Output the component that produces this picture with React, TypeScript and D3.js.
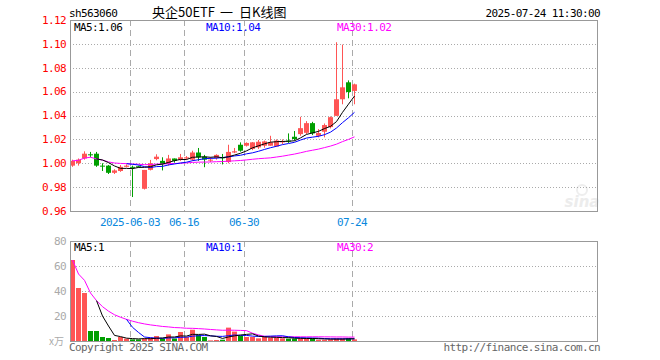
import React from 'react';
import * as d3 from 'd3';

// ---- data ----
const opens = [0.998, 1.0, 1.004, 1.0075, 1.008, 0.998, 0.998, 0.992, 0.9935, 0.997,
  0.997, 0.9975, 0.9786, 0.9945, 1.0035, 1.002, 0.9995, 1.004, 1.003, 1.004,
  1.003, 1.009, 1.0055, 1.0025, 1.0045, 1.005, 1.001, 1.009, 1.0155, 1.0147,
  1.012, 1.0133, 1.0147, 1.0147, 1.014, 1.0175, 1.019, 1.0222, 1.0244, 1.0255,
  1.0336, 1.023, 1.0264, 1.0303, 1.0397, 1.0536, 1.0678, 1.0606];
const closes = [1.002, 1.003, 1.008, 1.0072, 0.998, 0.9975, 0.992, 0.994, 0.997, 0.998,
  0.9965, 0.997, 0.9944, 1.0, 1.0055, 0.9995, 1.004, 1.002, 1.005, 1.005,
  1.009, 1.005, 1.003, 1.003, 1.007, 1.0048, 1.0095, 1.01, 1.0105, 1.017,
  1.0175, 1.018, 1.0183, 1.0175, 1.019, 1.0186, 1.0188, 1.0203, 1.0294, 1.0336,
  1.025, 1.0253, 1.032, 1.0386, 1.0536, 1.0636, 1.0597, 1.0661];
const highs = [1.003, 1.004, 1.01, 1.0095, 1.0095, 1.0, 0.9985, 0.995, 0.9985, 0.999,
  0.998, 0.998, 0.9944, 1.0028, 1.0075, 1.005, 1.007, 1.004, 1.0078, 1.006,
  1.0105, 1.0128, 1.007, 1.005, 1.0075, 1.0078, 1.0155, 1.0128, 1.0175, 1.0175,
  1.0178, 1.0195, 1.019, 1.023, 1.02, 1.02, 1.025, 1.027, 1.0389, 1.0353,
  1.0347, 1.0286, 1.0333, 1.0392, 1.1014, 1.0994, 1.0694, 1.0667];
const lows = [0.997, 0.998, 1.003, 1.005, 0.997, 0.9935, 0.991, 0.991, 0.9928, 0.9965,
  0.9717, 0.9965, 0.978, 0.994, 1.0025, 0.994, 0.998, 1.0005, 1.002, 1.003,
  1.002, 1.002, 0.9967, 1.001, 1.003, 0.999, 1.0, 1.0085, 1.0097, 1.014,
  1.011, 1.012, 1.013, 1.0147, 1.014, 1.016, 1.017, 1.019, 1.023, 1.0245,
  1.0236, 1.0217, 1.0217, 1.0292, 1.0397, 1.0494, 1.0544, 1.0494];
const volumes = [64.8, 42.4, 38.4, 8, 8, 3.2, 2.4, 0.8, 3.2, 1.9,
  1.3, 1.3, 1.9, 2.7, 4, 2, 5.3, 2, 7.2, 3.2,
  9, 4.8, 3.2, 0.5, 0.8, 1, 10.7, 7.5, 4, 3.2,
  3.2, 2.1, 4, 2.7, 2.7, 2.1, 1.9, 1.9, 2.1, 2.1,
  2.1, 1, 1, 1.3, 2.1, 2.1, 2.1, 1.3];

const priceTicks = [1.12, 1.10, 1.08, 1.06, 1.04, 1.02, 1.00, 0.98, 0.96];
const volTicks = [80, 60, 40, 20];
const dateTickIdx = [10, 19, 29, 47];
const dateTickLabels = ['2025-06-03', '06-16', '06-30', '07-24'];

const RED = '#ff5555';
const GREEN = '#009f00';
const MONO = '"DejaVu Sans Mono", "Liberation Mono", monospace';
const CJK = '"Noto Sans CJK SC", sans-serif';

function movingAvg(arr: number[], n: number, partial: boolean): (number | null)[] {
  return arr.map((_, i) => {
    if (i < n - 1 && !partial) return null;
    const s = arr.slice(Math.max(0, i - n + 1), i + 1);
    return d3.mean(s) as number;
  });
}

export default function App() {
  const W = 660, H = 360;
  const left = 70, right = 597;
  const pTop = 20, pBot = 211, vTop = 241, vBot = 341;

  const x = d3.scaleLinear().domain([0, 1]).range([left, left + 6]);
  const yP = d3.scaleLinear().domain([0.96, 1.12]).range([pBot, pTop]);
  const yV = d3.scaleLinear().domain([0, 80]).range([vBot, vTop]);

  const cx = (i: number) => x(i) + 2.5;

  const ma5 = movingAvg(closes, 5, false);
  const ma10 = movingAvg(closes, 10, false);
  const ma30 = movingAvg(closes, 30, true);
  const vma5 = movingAvg(volumes, 5, false);
  const vma10 = movingAvg(volumes, 10, false);
  const vma30 = movingAvg(volumes, 30, true);

  const mkLine = (ys: d3.ScaleLinear<number, number>) =>
    d3.line<number | null>()
      .defined((d) => d !== null)
      .x((_, i) => cx(i))
      .y((d) => ys(d as number));

  const lp = mkLine(yP);
  const lv = mkLine(yV);

  const snap = (v: number) => Math.round(v) + 0.5;
  const lab = { fontSize: 11, letterSpacing: -0.6 } as const;

  return (
    <svg width={W} height={H} style={{ position: 'absolute', left: 0, top: 0, background: '#fff' }}
      fontFamily={MONO}>
      <rect x={0} y={0} width={W} height={H} fill="#fff" />
      {/* header */}
      <text x={69} y={17} {...lab} fill="#000">sh563060</text>
      <text x={152} y={16.5} fontSize={13} fill="#000" fontFamily={CJK}>央企50ETF</text>
      <text x={220} y={16.5} fontSize={13} fill="#000" fontFamily={CJK}>一</text>
      <text x={239} y={16.5} fontSize={13} fill="#000" fontFamily={CJK}>日K线图</text>
      <text x={600} y={17} {...lab} fill="#000" textAnchor="end">2025-07-24 11:30:00</text>

      {/* watermark */}
      <text x={582} y={207} fontSize={15} fontStyle="italic" fontWeight="bold" fill="#ececec"
        textAnchor="middle" fontFamily="Verdana, 'DejaVu Sans', sans-serif">sina</text>
      <circle cx={582} cy={190} r={5} fill="none" stroke="#eee" strokeWidth={2} />

      {/* price grid */}
      {priceTicks.filter((t) => t < 1.115 && t > 0.965).map((t) => (
        <line key={'pg' + t} x1={left} x2={right} y1={snap(yP(t))} y2={snap(yP(t))}
          stroke="#aaa" strokeDasharray="1,2" />
      ))}
      {dateTickIdx.map((d) => (
        <line key={'pv' + d} x1={x(d) + 0.5} x2={x(d) + 0.5} y1={pTop} y2={pBot}
          stroke="#aaa" strokeDasharray="6,4" />
      ))}
      {/* volume grid */}
      {volTicks.filter((t) => t < 80).map((t) => (
        <line key={'vg' + t} x1={left} x2={right} y1={snap(yV(t))} y2={snap(yV(t))}
          stroke="#aaa" strokeDasharray="1,2" />
      ))}
      {dateTickIdx.map((d) => (
        <line key={'vv' + d} x1={x(d) + 0.5} x2={x(d) + 0.5} y1={vTop} y2={vBot}
          stroke="#aaa" strokeDasharray="6,4" />
      ))}

      {/* price labels */}
      {priceTicks.map((t) => (
        <text key={'pl' + t} x={66} y={yP(t)} dy="0.35em" {...lab} fill="#ff0000"
          textAnchor="end">{t.toFixed(2)}</text>
      ))}
      {/* date labels */}
      {dateTickIdx.map((d, k) => (
        <text key={'dl' + d} x={x(d)} y={226} {...lab} fill="#0a88dd"
          textAnchor="middle">{dateTickLabels[k]}</text>
      ))}
      {/* volume labels */}
      {volTicks.map((t) => (
        <text key={'vl' + t} x={66} y={yV(t)} dy="0.35em" {...lab} fill="#aaa"
          textAnchor="end">{t}</text>
      ))}
      <text x={64} y={yV(0)} dy="0.35em" fontSize={10} fill="#aaa" textAnchor="end"
        fontFamily={CJK}>x万</text>

      {/* candles */}
      {closes.map((c, i) => {
        const o = opens[i];
        const col = c >= o ? RED : GREEN;
        const top = yP(Math.max(o, c));
        const bot = yP(Math.min(o, c));
        const h = Math.max(1, bot - top);
        return (
          <g key={'c' + i}>
            <line x1={cx(i)} x2={cx(i)} y1={yP(highs[i])} y2={yP(lows[i])} stroke={col} strokeWidth={1} />
            <rect x={x(i)} y={top} width={5} height={h} fill={col} />
          </g>
        );
      })}

      {/* price MA lines */}
      <path d={lp(ma30) || ''} fill="none" stroke="#ff00ff" strokeWidth={1} />
      <path d={lp(ma10) || ''} fill="none" stroke="#0000ff" strokeWidth={1} />
      <path d={lp(ma5) || ''} fill="none" stroke="#000" strokeWidth={1} />

      {/* volume bars */}
      {volumes.map((v, i) => (
        <rect key={'v' + i} x={x(i)} y={yV(v)} width={5} height={vBot - yV(v)}
          fill={closes[i] >= opens[i] ? RED : GREEN} />
      ))}
      <path d={lv(vma30) || ''} fill="none" stroke="#ff00ff" strokeWidth={1} />
      <path d={lv(vma10) || ''} fill="none" stroke="#0000ff" strokeWidth={1} />
      <path d={lv(vma5) || ''} fill="none" stroke="#000" strokeWidth={1} />

      {/* frames */}
      <rect x={left + 0.5} y={pTop + 0.5} width={right - left} height={pBot - pTop}
        fill="none" stroke="#999" strokeWidth={1} />
      <rect x={left + 0.5} y={vTop + 0.5} width={right - left} height={vBot - vTop}
        fill="none" stroke="#999" strokeWidth={1} />

      {/* MA labels */}
      <text x={74} y={31} {...lab} fill="#000">MA5:1.06</text>
      <text x={206} y={31} {...lab} fill="#0000ff">MA10:1.04</text>
      <text x={337} y={31} {...lab} fill="#ff00ff">MA30:1.02</text>
      <text x={74} y={251} {...lab} fill="#000">MA5:1</text>
      <text x={206} y={251} {...lab} fill="#0000ff">MA10:1</text>
      <text x={337} y={251} {...lab} fill="#ff00ff">MA30:2</text>

      {/* footer */}
      <text x={69} y={351} {...lab} fill="#666">Copyright 2025 SINA.COM</text>
      <text x={600} y={351} {...lab} fill="#666" textAnchor="end">http://finance.sina.com.cn</text>
    </svg>
  );
}
